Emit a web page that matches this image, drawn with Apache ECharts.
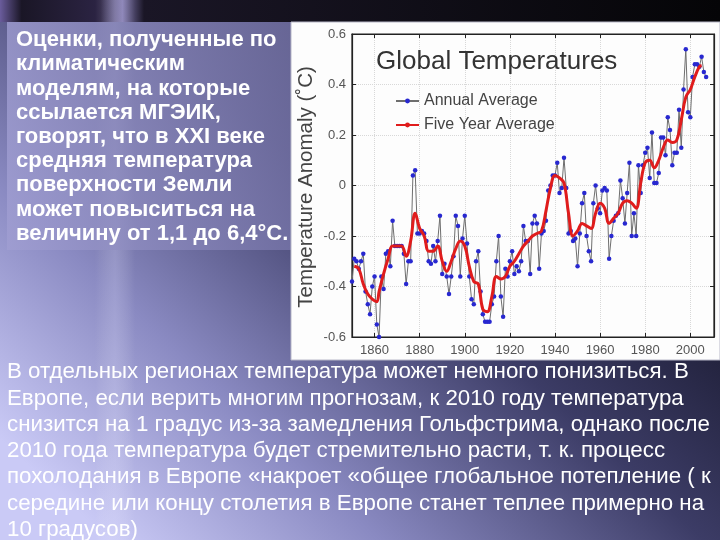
<!DOCTYPE html>
<html>
<head>
<meta charset="utf-8">
<script src="https://cdn.jsdelivr.net/npm/echarts@6/dist/echarts.min.js"></script>
<style>
  html, body { margin: 0; padding: 0; background: #1a1a2e; }
  #chart { width: 720px; height: 540px; }
</style>
</head>
<body>
<div id="chart"></div>
<script>
// ---- data ----
const firstYear = 1850;
const annualValues = [
  -0.38, -0.29, -0.30, -0.33, -0.30, -0.27, -0.42, -0.47, -0.51, -0.40,
  -0.36, -0.55, -0.60, -0.36, -0.41, -0.27, -0.26, -0.32, -0.14, -0.24,
  -0.24, -0.24, -0.24, -0.27, -0.39, -0.30, -0.30, 0.04, 0.06, -0.19,
  -0.19, -0.18, -0.19, -0.22, -0.30, -0.31, -0.24, -0.30, -0.22, -0.12,
  -0.35, -0.31, -0.36, -0.43, -0.36, -0.28, -0.12, -0.16, -0.36, -0.21,
  -0.12, -0.23, -0.36, -0.45, -0.47, -0.30, -0.26, -0.42, -0.51, -0.54,
  -0.54, -0.54, -0.47, -0.44, -0.30, -0.20, -0.44, -0.52, -0.33, -0.36,
  -0.30, -0.26, -0.35, -0.32, -0.34, -0.30, -0.16, -0.22, -0.22, -0.35,
  -0.15, -0.12, -0.15, -0.33, -0.19, -0.18, -0.14, -0.02, 0.00, 0.04,
  0.04, 0.09, -0.03, -0.01, 0.11, -0.01, -0.19, -0.18, -0.22, -0.21,
  -0.32, -0.19, -0.07, -0.03, -0.20, -0.26, -0.30, -0.07, 0.00, -0.09,
  -0.11, -0.02, -0.01, -0.02, -0.29, -0.20, -0.14, -0.12, -0.11, 0.02,
  -0.05, -0.15, -0.03, 0.09, -0.20, -0.11, -0.20, 0.08, -0.03, 0.08,
  0.13, 0.15, 0.03, 0.21, 0.01, 0.01, 0.05, 0.19, 0.19, 0.12,
  0.27, 0.22, 0.08, 0.13, 0.13, 0.30, 0.15, 0.38, 0.54, 0.29,
  0.27, 0.43, 0.48, 0.48, 0.47, 0.51, 0.45, 0.43
];
const fiveYears = [1851, 1853, 1855, 1857, 1859, 1861, 1862, 1864, 1866, 1868, 1870, 1872, 1874, 1876, 1878,
  1880, 1882, 1884, 1886, 1888, 1890, 1892, 1894, 1896, 1898, 1900, 1902, 1904, 1906, 1908, 1910,
  1912, 1914, 1916, 1918, 1920, 1922, 1924, 1926, 1928, 1930, 1932, 1934, 1936, 1938, 1940, 1942,
  1944, 1946, 1948, 1950, 1952, 1954, 1956, 1958, 1960, 1962, 1964, 1966, 1968, 1970, 1972, 1974,
  1976, 1978, 1980, 1982, 1984, 1986, 1988, 1990, 1992, 1994, 1996, 1998, 2000, 2002, 2004, 2005];
const fiveValues = [-0.32, -0.33, -0.39, -0.43, -0.45, -0.46, -0.42, -0.35, -0.29, -0.24, -0.24, -0.24, -0.28, -0.22, -0.11,
  -0.17, -0.20, -0.26, -0.26, -0.24, -0.30, -0.34, -0.30, -0.25, -0.22, -0.24, -0.32, -0.38, -0.39, -0.49, -0.50,
  -0.44, -0.36, -0.37, -0.36, -0.32, -0.30, -0.27, -0.24, -0.22, -0.20, -0.19, -0.18, -0.10, -0.01, 0.04, 0.03,
  0.01, -0.11, -0.20, -0.18, -0.15, -0.16, -0.17, -0.11, -0.07, -0.09, -0.15, -0.13, -0.11, -0.07, -0.06, -0.07,
  -0.09, 0.01, 0.09, 0.10, 0.07, 0.10, 0.15, 0.18, 0.17, 0.18, 0.26, 0.35, 0.38, 0.43, 0.47, 0.475];

const chartTitle = 'Global Temperatures';
const yAxisName = 'Temperature Anomaly (˚C)';
const seriesNames = ['Annual Average', 'Five Year Average'];
const leftText = 'Оценки, полученные по\nклиматическим\nмоделям, на которые\nссылается МГЭИК,\nговорят, что в XXI веке\nсредняя температура\nповерхности Земли\nможет повыситься на\nвеличину от 1,1 до 6,4°С.';
const bottomText = 'В отдельных регионах температура может немного понизиться. В\nЕвропе, если верить многим прогнозам, к 2010 году температура\nснизится на 1 градус из-за замедления Гольфстрима, однако после\n2010 года температура будет стремительно расти, т. к. процесс\nпохолодания в Европе «накроет «общее глобальное потепление ( к\nсередине или концу столетия в Европе станет теплее примерно на\n10 градусов)';

const annualData = annualValues.map((v, i) => [firstYear + i, v]);
const fiveData = fiveYears.map((y, i) => [y, fiveValues[i]]);

const chart = echarts.init(document.getElementById('chart'), null, { renderer: 'canvas' });

const sans = 'Liberation Sans, Arial, sans-serif';
const axisLabelStyle = { color: '#555', fontSize: 13, fontFamily: sans };

chart.setOption({
  animation: false,
  backgroundColor: '#20203a',
  graphic: [
    // slide background
    { type: 'rect', z: -100, silent: true, shape: { x: 0, y: 0, width: 720, height: 540 },
      style: { fill: new echarts.graphic.LinearGradient(0.15, 1, 0.85, 0, [
        { offset: 0, color: '#cacaf6' },
        { offset: 0.25, color: '#8a8ac2' },
        { offset: 0.55, color: '#3c3c66' },
        { offset: 0.85, color: '#16162a' },
        { offset: 1, color: '#08080e' }
      ]) } },
    // dark top band
    { type: 'rect', z: -99, silent: true, shape: { x: 0, y: 0, width: 720, height: 22 },
      style: { fill: new echarts.graphic.LinearGradient(0, 0, 1, 0, [
        { offset: 0, color: '#6a5c9c' },
        { offset: 0.03, color: '#1a1626' },
        { offset: 0.14, color: '#2c2444' },
        { offset: 0.17, color: '#8078b0' },
        { offset: 0.2, color: '#1a1626' },
        { offset: 1, color: '#050507' }
      ]) } },
    // light vertical streak
    { type: 'rect', z: -98, silent: true, shape: { x: 95, y: 0, width: 40, height: 540 },
      style: { fill: new echarts.graphic.LinearGradient(0, 0, 1, 0, [
        { offset: 0, color: 'rgba(255,255,255,0)' },
        { offset: 0.5, color: 'rgba(230,230,255,0.22)' },
        { offset: 1, color: 'rgba(255,255,255,0)' }
      ]) } },
    // text box behind left text
    { type: 'rect', z: -97, silent: true, shape: { x: 7, y: 22, width: 284, height: 228 },
      style: { fill: new echarts.graphic.LinearGradient(0, 0, 1, 0, [
        { offset: 0, color: 'rgba(160,158,210,0.78)' },
        { offset: 1, color: 'rgba(120,118,170,0.78)' }
      ]) } },
    // white picture panel
    { type: 'rect', z: -96, silent: true, shape: { x: 291, y: 22, width: 429, height: 338 },
      style: { fill: '#fdfdfd', stroke: '#b8b8c8', lineWidth: 1 } },
    // chart title
    { type: 'text', z: 10, silent: true, x: 376, y: 62,
      style: { text: chartTitle, fill: '#333', fontSize: 26, fontFamily: sans,
        verticalAlign: 'middle', align: 'left' } },
    // y axis name
    { type: 'text', z: 10, silent: true, x: 306, y: 187, rotation: Math.PI / 2,
      style: { text: yAxisName, fill: '#444', fontSize: 20.5, fontFamily: sans,
        verticalAlign: 'middle', align: 'center' } },
    // left text
    { type: 'text', z: 10, silent: true, x: 16, y: 28,
      style: { text: leftText, fill: '#ffffff', fontSize: 22, fontWeight: 'bold', lineHeight: 24.2,
        fontFamily: sans, verticalAlign: 'top', align: 'left' } },
    // bottom text
    { type: 'text', z: 10, silent: true, x: 7, y: 359,
      style: { text: bottomText, fill: '#ffffff', fontSize: 22.3, lineHeight: 26.3,
        fontFamily: sans, verticalAlign: 'top', align: 'left' } }
  ],
  legend: {
    orient: 'vertical', left: 390, top: 88, itemGap: 8, itemWidth: 23, itemHeight: 6,
    textStyle: { color: '#444', fontSize: 16, fontFamily: sans },
    data: seriesNames
  },
  grid: { left: 352, right: 6, top: 34, bottom: 203, show: true, borderColor: '#222', borderWidth: 1.2, backgroundColor: 'transparent' },
  xAxis: [{
    type: 'value', min: 1850, max: 2010.5, splitNumber: 8,
    axisLine: { show: true, onZero: false, lineStyle: { color: '#222', width: 1.2 } },
    axisTick: { show: true, inside: true, length: 4, lineStyle: { color: '#222' } },
    axisLabel: Object.assign({ margin: 7, showMinLabel: false, showMaxLabel: false, formatter: v => String(v) }, axisLabelStyle),
    splitLine: { show: true, lineStyle: { color: '#d8d8d8', type: 'dotted' } }
  }, {
    type: 'value', position: 'top', min: 1850, max: 2010.5, splitNumber: 8,
    axisLine: { show: true, onZero: false, lineStyle: { color: '#222', width: 1.2 } },
    axisTick: { show: true, inside: true, length: 4, lineStyle: { color: '#222' } },
    axisLabel: { show: false }, splitLine: { show: false }
  }],
  yAxis: [{
    type: 'value', min: -0.6, max: 0.6, interval: 0.2,
    axisLine: { show: true, onZero: false, lineStyle: { color: '#222', width: 1.2 } },
    axisTick: { show: true, inside: true, length: 4, lineStyle: { color: '#222' } },
    axisLabel: Object.assign({ margin: 6, formatter: v => String(Math.round(v * 10) / 10) }, axisLabelStyle),
    splitLine: { show: true, lineStyle: { color: '#d8d8d8', type: 'dotted' } }
  }, {
    type: 'value', position: 'right', min: -0.6, max: 0.6, interval: 0.2,
    axisLine: { show: true, onZero: false, lineStyle: { color: '#222', width: 1.2 } },
    axisTick: { show: true, inside: true, length: 4, lineStyle: { color: '#222' } },
    axisLabel: { show: false }, splitLine: { show: false }
  }],
  series: [{
    name: seriesNames[0], type: 'line', data: annualData, xAxisIndex: 0, yAxisIndex: 0,
    symbol: 'circle', symbolSize: 4.5, showSymbol: true,
    lineStyle: { color: '#6e6e6e', width: 1 },
    itemStyle: { color: '#2828d0' },
    z: 3
  }, {
    name: seriesNames[1], type: 'line', data: fiveData, xAxisIndex: 0, yAxisIndex: 0,
    symbol: 'none', smooth: 0.4,
    lineStyle: { color: '#e01c1c', width: 3 },
    itemStyle: { color: '#e01c1c' },
    z: 4
  }]
});
</script>
</body>
</html>
